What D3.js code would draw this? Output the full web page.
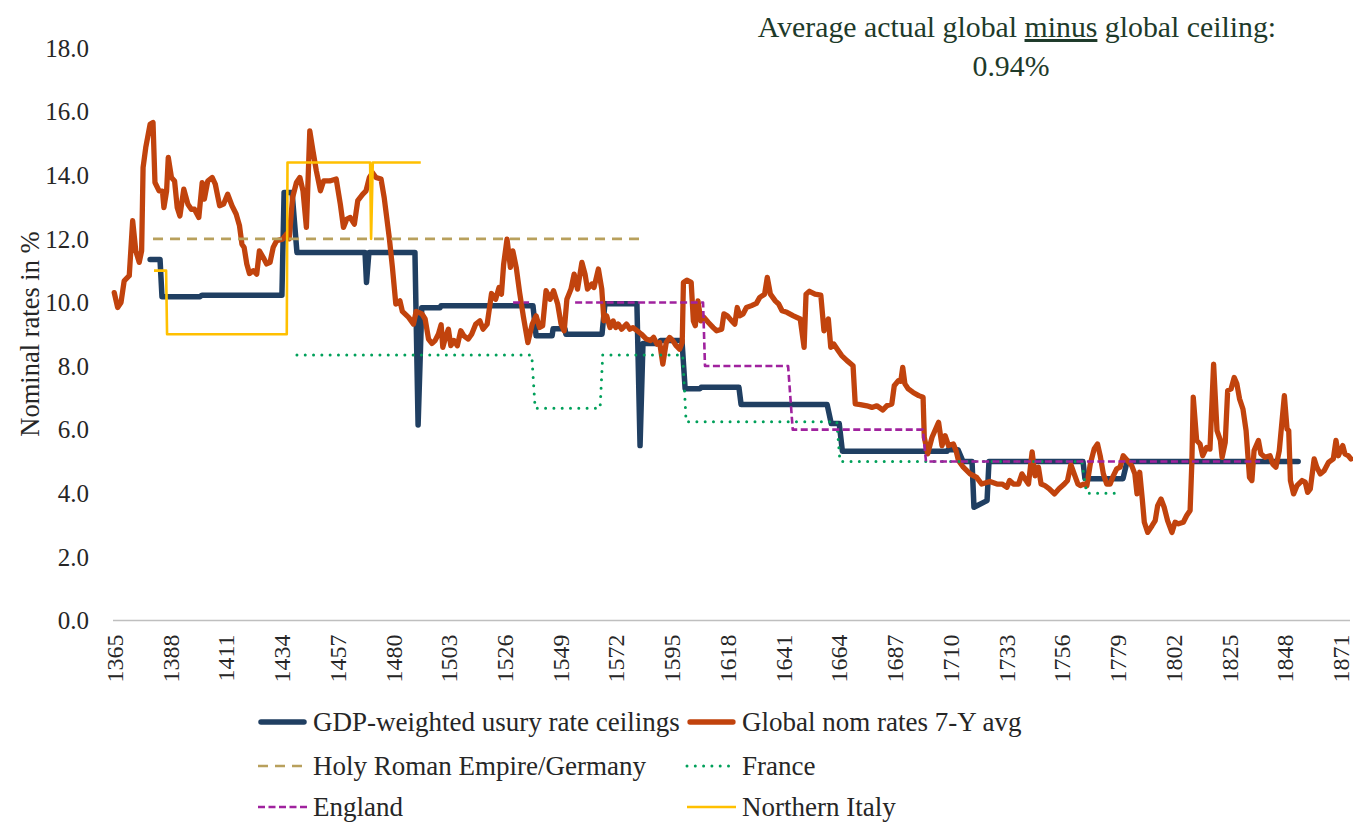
<!DOCTYPE html>
<html><head><meta charset="utf-8">
<script src="https://cdn.jsdelivr.net/npm/d3@7/dist/d3.min.js"></script>
<style>
body{margin:0;background:#fff;}
svg{display:block;font-family:"Liberation Serif","Times New Roman",serif;}
</style>
</head><body>
<svg id="chart" width="1353" height="822"></svg>
<script>
// ---------- DATA ----------
const xTickYears = [1365,1388,1411,1434,1457,1480,1503,1526,1549,1572,1595,1618,1641,1664,1687,1710,1733,1756,1779,1802,1825,1848,1871];
const yTickValues = [0,2,4,6,8,10,12,14,16,18];

const seriesNames = ["GDP-weighted usury rate ceilings","Global nom rates 7-Y avg","Holy Roman Empire/Germany","France","England","Northern Italy"];

// GDP-weighted usury rate ceilings [year, %]
const gdpCeiling = [
[1379.9,11.35],[1384.0,11.35],[1384.8,10.18],[1400.5,10.18],[1401.3,10.23],[1434.3,10.23],[1435.2,13.46],[1438.5,13.46],
[1440.5,11.57],[1468.6,11.57],[1469.2,10.63],[1470.2,11.57],[1489.2,11.57],[1490.5,6.15],[1492.0,9.83],[1499.5,9.83],
[1500.0,9.9],[1537.9,9.9],[1539.2,8.95],[1545.8,8.95],[1546.2,9.17],[1551.1,9.17],[1551.5,9.0],[1566.4,9.0],
[1567.6,9.96],[1580.8,9.96],[1582.1,5.5],[1583.3,8.71],[1590.0,8.71],[1590.5,8.8],[1599.4,8.8],[1600.7,7.29],[1606.9,7.29],
[1607.3,7.33],[1622.9,7.33],[1623.8,6.79],[1659.3,6.79],[1661.0,6.19],[1664.3,6.19],[1665.6,5.32],[1708.8,5.32],
[1709.2,5.37],[1713.3,5.37],[1715.4,5.0],[1719.1,5.0],[1719.9,3.56],[1725.3,3.77],[1726.1,5.0],[1764.9,5.0],
[1765.7,4.46],[1781.4,4.46],[1783.1,5.0],[1853.7,5.0]
];

// Global nominal rates, 7-year average [year, %]
const globalNom = [
[1365.1,10.31],[1366.5,9.84],[1367.9,10.0],[1369.2,10.68],[1371.3,10.84],[1372.7,12.57],[1374.0,11.62],[1375.4,11.26],[1376.4,11.62],
[1377.0,14.24],[1378.1,14.87],[1379.9,15.6],[1381.1,15.66],[1381.9,13.77],[1383.6,13.51],[1385.0,13.5],[1385.6,12.98],[1386.7,13.5],
[1387.4,14.56],[1388.7,13.93],[1390.0,13.82],[1391.1,12.98],[1392.2,12.72],[1393.8,13.56],[1395.5,13.09],[1396.9,12.93],[1398.2,12.93],
[1400.0,12.67],[1401.4,13.77],[1402.3,13.25],[1403.7,13.82],[1405.5,13.93],[1406.8,13.72],[1408.6,13.04],[1410.2,13.09],[1411.9,13.4],
[1413.7,13.04],[1415.4,12.78],[1416.8,12.41],[1417.8,11.83],[1418.7,11.73],[1419.8,11.21],[1420.9,10.91],[1422.5,11.0],[1423.9,10.89],
[1425.0,11.62],[1426.6,11.41],[1428.0,11.21],[1429.4,11.26],[1430.7,11.73],[1432.1,11.94],[1434.6,11.99],[1436.2,12.15],[1437.3,12.0],
[1438.7,13.3],[1440.3,13.77],[1441.7,13.93],[1443.0,13.51],[1444.4,12.36],[1445.8,15.39],[1447.1,14.77],[1448.5,14.14],[1450.2,13.51],
[1451.5,13.82],[1454.0,13.82],[1456.7,13.88],[1458.4,13.09],[1459.7,12.36],[1461.1,12.62],[1462.5,12.67],[1464.2,12.46],[1465.6,13.2],
[1467.6,13.4],[1469.0,13.51],[1470.4,13.93],[1471.7,14.08],[1473.1,13.93],[1475.2,13.88],[1476.5,13.3],[1478.6,12.04],[1479.9,11.1],
[1481.3,9.95],[1483.0,10.05],[1484.0,9.72],[1486.6,9.53],[1488.6,9.32],[1489.7,9.72],[1492.1,9.64],[1493.4,9.48],[1494.8,8.85],
[1496.2,8.71],[1497.5,8.8],[1498.9,9.01],[1500.0,9.3],[1500.7,8.59],[1502.0,8.95],[1503.0,9.16],[1504.0,8.64],[1505.3,8.8],
[1506.7,8.64],[1508.1,9.11],[1509.4,8.95],[1511.2,8.85],[1512.6,9.0],[1514.3,9.32],[1516.0,9.42],[1517.3,9.16],[1519.0,9.32],
[1520.8,10.28],[1522.5,10.1],[1523.9,10.47],[1524.9,10.26],[1525.8,11.2],[1527.2,11.99],[1528.6,11.1],[1529.6,11.62],[1531.0,11.1],
[1532.4,10.31],[1534.0,9.53],[1535.8,8.74],[1537.6,9.32],[1539.2,9.58],[1540.6,9.21],[1541.9,9.27],[1543.3,10.37],[1545.0,10.1],
[1546.4,10.37],[1548.1,9.95],[1549.5,9.32],[1550.8,9.11],[1551.9,10.1],[1553.6,10.42],[1554.9,10.89],[1556.3,10.42],[1558.1,11.26],
[1559.4,10.89],[1560.4,10.42],[1562.2,10.58],[1563.1,10.47],[1564.9,11.05],[1566.3,10.42],[1567.2,9.42],[1568.3,9.58],[1569.7,9.21],
[1571.0,9.42],[1572.1,9.21],[1573.1,9.32],[1574.5,9.16],[1576.5,9.32],[1577.9,9.16],[1579.2,9.21],[1580.9,9.11],[1582.7,9.0],
[1584.7,8.85],[1586.4,8.8],[1587.7,8.9],[1589.1,8.69],[1590.2,8.74],[1591.5,8.06],[1592.9,8.74],[1594.3,8.9],[1595.6,8.8],
[1597.0,8.64],[1598.4,8.53],[1599.5,8.74],[1600.0,10.63],[1601.4,10.7],[1603.2,10.63],[1604.1,9.42],[1604.9,9.27],[1606.0,10.05],
[1607.2,9.42],[1608.5,9.53],[1610.3,9.37],[1612.3,9.21],[1613.7,9.11],[1615.8,9.16],[1616.7,9.64],[1618.1,9.58],[1619.9,9.42],
[1621.2,9.32],[1622.2,9.84],[1623.3,9.58],[1624.6,9.64],[1626.0,9.84],[1628.1,9.9],[1630.1,9.97],[1631.5,10.16],[1633.5,10.26],
[1634.6,10.79],[1635.9,10.26],[1637.9,10.05],[1639.3,9.95],[1640.7,9.74],[1642.7,9.69],[1645.4,9.58],[1648.2,9.48],[1649.8,8.59],
[1650.6,10.26],[1652.0,10.35],[1654.3,10.26],[1656.7,10.23],[1658.0,9.11],[1659.8,9.48],[1660.8,8.59],[1662.1,8.69],[1663.5,8.53],
[1665.3,8.33],[1667.5,8.17],[1670.0,8.01],[1670.9,6.81],[1673.0,6.79],[1675.7,6.75],[1677.8,6.7],[1679.8,6.75],[1682.3,6.62],
[1683.9,6.75],[1686.0,6.81],[1687.0,7.38],[1688.7,7.54],[1689.7,7.52],[1690.5,7.96],[1691.4,7.44],[1692.8,7.28],[1694.8,7.17],
[1697.1,7.07],[1698.9,7.02],[1699.4,5.76],[1700.8,5.24],[1702.6,5.76],[1705.3,6.23],[1706.7,5.5],[1708.0,5.81],[1709.4,5.5],
[1711.4,5.55],[1712.5,5.34],[1713.5,5.03],[1715.5,4.82],[1718.3,4.61],[1721.0,4.5],[1723.1,4.29],[1726.5,4.37],[1729.4,4.29],
[1731.5,4.29],[1733.5,4.19],[1734.6,4.4],[1736.2,4.29],[1738.3,4.29],[1739.7,4.61],[1741.0,4.45],[1742.4,4.29],[1743.9,5.3],
[1745.1,4.55],[1746.5,4.82],[1747.6,4.29],[1749.2,4.24],[1751.0,4.14],[1753.1,3.98],[1755.0,4.14],[1757.2,4.29],[1758.5,4.4],
[1759.9,4.9],[1761.3,4.6],[1762.8,4.29],[1763.8,4.24],[1765.1,4.29],[1766.5,4.24],[1767.9,4.92],[1769.5,5.39],[1770.9,5.55],
[1772.0,5.18],[1773.3,4.61],[1774.7,4.29],[1776.1,4.29],[1777.4,4.55],[1778.8,4.77],[1780.2,4.82],[1781.5,5.18],[1783.2,5.03],
[1785.0,4.87],[1786.3,4.61],[1787.2,3.98],[1788.3,4.66],[1789.3,3.87],[1790.2,3.09],[1791.6,2.77],[1793.4,2.98],[1794.7,3.14],
[1795.7,3.61],[1797.1,3.82],[1798.4,3.56],[1799.8,3.14],[1801.6,2.77],[1802.9,3.09],[1804.3,3.04],[1806.3,3.09],[1807.7,3.3],
[1809.1,3.46],[1809.8,4.92],[1810.4,7.02],[1811.8,5.66],[1813.2,5.55],[1814.3,5.18],[1815.9,5.44],[1817.3,5.39],[1818.8,8.06],
[1820.2,5.97],[1821.6,5.66],[1822.3,5.13],[1823.6,5.6],[1824.6,7.23],[1826.0,7.28],[1827.3,7.64],[1828.4,7.44],[1829.5,6.97],
[1830.9,6.65],[1832.2,5.97],[1833.6,4.5],[1834.6,4.4],[1835.5,5.34],[1837.3,5.66],[1838.3,5.24],[1840.0,5.13],[1842.1,5.18],
[1843.2,4.92],[1844.5,4.82],[1845.9,5.34],[1848.0,7.07],[1849.1,6.02],[1849.8,5.97],[1850.5,4.4],[1851.8,3.98],[1853.2,4.24],
[1855.3,4.4],[1856.6,4.35],[1857.6,4.03],[1858.7,4.14],[1860.3,5.08],[1861.4,4.82],[1862.8,4.61],[1864.4,4.71],[1866.2,4.97],
[1868.2,5.08],[1869.3,5.66],[1870.3,5.18],[1872.1,5.5],[1873.0,5.24],[1874.4,5.18],[1875.5,5.08]
];

// Holy Roman Empire / Germany ceiling
const hreGermany = [[1381.1,12.0],[1583.3,12.0]];

// France ceiling
const france = [
[1440.5,8.35],[1537.4,8.35],[1538.8,6.67],[1565.6,6.67],[1566.7,8.35],[1599.7,8.35],[1601.1,6.25],
[1663.3,6.25],[1664.6,5.0],[1764.4,5.0],[1766.4,4.0],[1780.9,4.0]
];

// England ceiling (null = no data)
const england = [
[1529.7,10.0],[1536.3,10.0],[1545.0,null],[1555.3,10.0],[1608.1,10.0],[1608.9,8.0],[1643.2,8.0],[1645.1,6.0],
[1698.8,6.0],[1700.1,5.0],[1838.0,5.0]
];

// Northern Italy ceiling
const northernItaly = [
[1381.5,11.0],[1386.5,11.0],[1386.9,9.0],[1436.3,9.0],[1436.6,14.4],[1470.7,14.4],[1471.1,12.0],[1471.8,14.4],[1491.6,14.4]
];

const noteLine1 = ["Average actual global ", "minus", " global ceiling:"];
const noteLine2 = "0.94%";

// ---------- CHART ----------
const svg = d3.select("#chart");
const x = d3.scaleLinear().domain([1365, 1875.5]).range([114, 1351]);
const y = d3.scaleLinear().domain([0, 18]).range([620.5, 48]);

const styles = [
  {color:"#203f62", width:5.5, dash:null, cap:"round"},
  {color:"#c1430d", width:5.3, dash:null, cap:"round"},
  {color:"#b8a05c", width:2.6, dash:"10,7", cap:"butt"},
  {color:"#00a05a", width:3, dash:"0,8.3", cap:"round"},
  {color:"#a0229e", width:2.6, dash:"7,3.5", cap:"butt"},
  {color:"#ffc000", width:2.6, dash:null, cap:"butt"}
];
const datasets = [gdpCeiling, globalNom, hreGermany, france, england, northernItaly];

// x axis
const xAxis = d3.axisBottom(x).tickValues(xTickYears).tickSize(0).tickSizeOuter(0).tickFormat(d3.format("d"));
const gx = svg.append("g").attr("transform","translate(0,620.5)").call(xAxis);
gx.select(".domain").attr("stroke","#bfbfbf").attr("stroke-width",1.6).attr("d","M113,0H1350");
gx.selectAll("text")
  .attr("transform","rotate(-90)")
  .attr("x",-14).attr("y",0).attr("dy","0.35em")
  .style("text-anchor","end")
  .style("font-size","24px")
  .style("font-family","Liberation Serif")
  .attr("fill","#262626");

// y axis
const yAxis = d3.axisLeft(y).tickValues(yTickValues).tickSize(0).tickPadding(0).tickFormat(d3.format(".1f"));
const gy = svg.append("g").attr("transform","translate(89,0)").call(yAxis);
gy.select(".domain").remove();
gy.selectAll("text").attr("dy","0.33em").style("font-size","25px").style("font-family","Liberation Serif").attr("fill","#262626");

// y title
svg.append("text")
  .attr("transform","translate(30,334) rotate(-90)")
  .attr("text-anchor","middle")
  .attr("dy","0.35em")
  .style("font-size","26.5px")
  .attr("fill","#262626")
  .text("Nominal rates in %");

// series
const line = d3.line().defined(d => d[1] !== null).x(d => x(d[0])).y(d => y(d[1]));
datasets.forEach((data, i) => {
  const s = styles[i];
  svg.append("path")
    .datum(data)
    .attr("fill","none")
    .attr("stroke", s.color)
    .attr("stroke-width", s.width)
    .attr("stroke-linejoin","round")
    .attr("stroke-linecap", s.cap)
    .attr("stroke-dasharray", s.dash)
    .attr("d", line);
});

// annotation
const note = svg.append("text")
  .attr("x",1017).attr("y",37)
  .attr("text-anchor","middle")
  .style("font-size","29.8px")
  .attr("fill","#1e3a2a");
noteLine1.forEach((t, i) => {
  note.append("tspan").text(t).style("text-decoration", i === 1 ? "underline" : null);
});
svg.append("text")
  .attr("x",1011).attr("y",76)
  .attr("text-anchor","middle")
  .style("font-size","29.8px")
  .attr("fill","#1e3a2a")
  .text(noteLine2);

// legend
const legCols = [258, 687];
const legRows = [722, 766, 807];
seriesNames.forEach((name, i) => {
  const s = styles[i];
  const gx0 = legCols[i % 2], gy0 = legRows[Math.floor(i / 2)];
  const g = svg.append("g").attr("transform", `translate(${gx0},${gy0})`);
  g.append("line")
    .attr("x1", s.cap === "round" && !s.dash ? 3 : 0).attr("x2", s.cap === "round" && !s.dash ? 46 : 49)
    .attr("y1",0).attr("y2",0)
    .attr("stroke", s.color)
    .attr("stroke-width", s.width)
    .attr("stroke-linecap", s.cap)
    .attr("stroke-dasharray", s.dash);
  g.append("text")
    .attr("x",55).attr("y",0).attr("dy","0.33em")
    .style("font-size","27px")
    .attr("fill","#262626")
    .text(name);
});
</script>
</body></html>
